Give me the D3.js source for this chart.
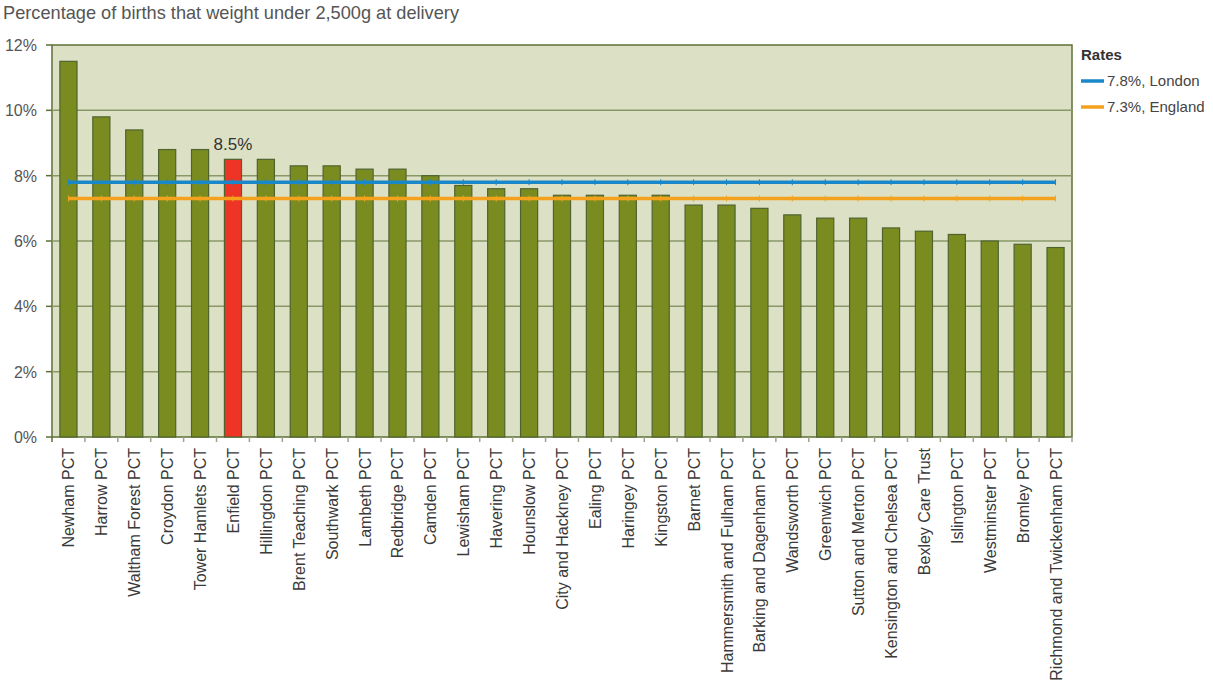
<!DOCTYPE html>
<html>
<head>
<meta charset="utf-8">
<script src="https://cdn.jsdelivr.net/npm/d3@7"></script>
<style>
  body { margin: 0; background: #fff; }
  text { font-family: "Liberation Sans", Arial, sans-serif; }
</style>
</head>
<body>
<script>
var width = 1213;
var height = 691;

// data
var trusts = ["Newham PCT", "Harrow PCT", "Waltham Forest PCT", "Croydon PCT", "Tower Hamlets PCT",
    "Enfield PCT", "Hillingdon PCT", "Brent Teaching PCT", "Southwark PCT", "Lambeth PCT",
    "Redbridge PCT", "Camden PCT", "Lewisham PCT", "Havering PCT", "Hounslow PCT",
    "City and Hackney PCT", "Ealing PCT", "Haringey PCT", "Kingston PCT", "Barnet PCT",
    "Hammersmith and Fulham PCT", "Barking and Dagenham PCT", "Wandsworth PCT", "Greenwich PCT",
    "Sutton and Merton PCT", "Kensington and Chelsea PCT", "Bexley Care Trust", "Islington PCT",
    "Westminster PCT", "Bromley PCT", "Richmond and Twickenham PCT"];
var lowWeight = [11.5, 9.8, 9.4, 8.8, 8.8, 8.5, 8.5, 8.3, 8.3, 8.2,
    8.2, 8.0, 7.7, 7.6, 7.6, 7.4, 7.4, 7.4, 7.4, 7.1,
    7.1, 7.0, 6.8, 6.7, 6.7, 6.4, 6.3, 6.2, 6.0, 5.9, 5.8];
var highlight = "Enfield PCT";
var rateNames = ["London", "England"];
var rateValues = [7.8, 7.3];
var rateColors = ["#1a87c8", "#f4a21e"];
var yTicks = [0, 2, 4, 6, 8, 10, 12];

var margin = {left: 52, top: 45, right: 141, bottom: 254};
var plotW = width - margin.left - margin.right;
var plotH = height - margin.top - margin.bottom;

var svg = d3.select("body").append("svg")
    .attr("width", width)
    .attr("height", height);

var x = d3.scaleBand().domain(trusts).range([0, plotW]).paddingInner(0.48).paddingOuter(0.24);
var y = d3.scaleLinear().domain([0, 12]).range([plotH, 0]);

// title
svg.append("text")
    .text("Percentage of births that weight under 2,500g at delivery")
    .attr("x", 3)
    .attr("y", 19)
    .style("font-size", "18.2px")
    .style("fill", "#555");

var g = svg.append("g").attr("transform", "translate(" + margin.left + "," + margin.top + ")");

g.append("rect")
    .attr("width", plotW)
    .attr("height", plotH)
    .attr("fill", "#dce1c6")
    .attr("stroke", "#5d7034")
    .attr("stroke-width", 1.5);

// gridlines
g.selectAll(".grid").data(yTicks.slice(1, -1))
    .enter().append("line").classed("grid", true)
    .attr("x1", 0).attr("x2", plotW)
    .attr("y1", function(d) { return y(d); })
    .attr("y2", function(d) { return y(d); })
    .style("stroke", "#8a9868")
    .style("stroke-width", 1.5);

// y labels
g.selectAll(".ylab").data(yTicks)
    .enter().append("text").classed("ylab", true)
    .text(function(d) { return d + "%"; })
    .attr("x", -15)
    .attr("y", function(d) { return y(d) + 6; })
    .attr("text-anchor", "end")
    .style("font-size", "16px")
    .style("fill", "#555");

// small ticks on left axis
g.selectAll(".ytick").data(yTicks)
    .enter().append("line").classed("ytick", true)
    .attr("x1", -6).attr("x2", 0)
    .attr("y1", function(d) { return y(d); })
    .attr("y2", function(d) { return y(d); })
    .style("stroke", "#5d7034")
    .style("stroke-width", 1.5);

// bars
g.selectAll(".bar").data(trusts)
    .enter().append("rect").classed("bar", true)
    .attr("x", function(d) { return x(d); })
    .attr("width", x.bandwidth())
    .attr("y", function(d, i) { return y(lowWeight[i]); })
    .attr("height", function(d, i) { return plotH - y(lowWeight[i]); })
    .attr("fill", function(d) { return d == highlight ? "#ee3424" : "#7a8c1f"; })
    .style("stroke", "#4f6330")
    .style("stroke-width", 1.2);

// value label on highlighted bar
var hi = trusts.indexOf(highlight);
g.append("text")
    .text(lowWeight[hi].toFixed(1) + "%")
    .attr("x", x(highlight) + x.bandwidth() / 2)
    .attr("y", y(lowWeight[hi]) - 9)
    .attr("text-anchor", "middle")
    .style("font-size", "17px")
    .style("fill", "#333");

// rate lines
var step = x.step();
var firstC = x(trusts[0]) + x.bandwidth() / 2;
var lastC = x(trusts[trusts.length - 1]) + x.bandwidth() / 2;
rateValues.forEach(function(v, i) {
    g.append("line")
        .attr("x1", firstC).attr("x2", lastC)
        .attr("y1", y(v)).attr("y2", y(v))
        .style("stroke", rateColors[i])
        .style("stroke-width", 3.5);
    g.selectAll(".mk" + i).data(trusts)
        .enter().append("line")
        .attr("x1", function(d) { return x(d) + x.bandwidth() / 2; })
        .attr("x2", function(d) { return x(d) + x.bandwidth() / 2; })
        .attr("y1", y(v) - 3).attr("y2", y(v) + 3)
        .style("stroke", rateColors[i])
        .style("stroke-width", 1);
});

// x axis ticks between categories
var bounds = d3.range(trusts.length + 1).map(function(i) { return i * step; });
g.selectAll(".xtick").data(bounds)
    .enter().append("line")
    .attr("x1", function(d) { return d; })
    .attr("x2", function(d) { return d; })
    .attr("y1", plotH).attr("y2", plotH + 5)
    .style("stroke", function(d, i) { return i == 0 ? "#5d7034" : "#9aa58a"; })
    .style("stroke-width", 1.5);

// x labels
g.selectAll(".xlab").data(trusts)
    .enter().append("text").classed("xlab", true)
    .text(function(d) { return d; })
    .attr("transform", function(d) {
        return "translate(" + (x(d) + x.bandwidth() / 2 + 6) + "," + (plotH + 11) + ") rotate(-90)";
    })
    .attr("text-anchor", "end")
    .style("font-size", "16px")
    .style("fill", "#3a3a3a");

// legend
var lg = svg.append("g").attr("transform", "translate(1081,0)");
lg.append("text")
    .text("Rates")
    .attr("x", 0).attr("y", 60)
    .style("font-size", "15px")
    .style("font-weight", "bold")
    .style("fill", "#333");
rateNames.forEach(function(n, i) {
    var ly = 81 + i * 26;
    lg.append("line")
        .attr("x1", 0).attr("x2", 23)
        .attr("y1", ly).attr("y2", ly)
        .style("stroke", rateColors[i])
        .style("stroke-width", 3.5);
    lg.append("text")
        .text(rateValues[i].toFixed(1) + "%, " + n)
        .attr("x", 26).attr("y", ly + 5)
        .style("font-size", "15px")
        .style("fill", "#444");
});
</script>
</body>
</html>
